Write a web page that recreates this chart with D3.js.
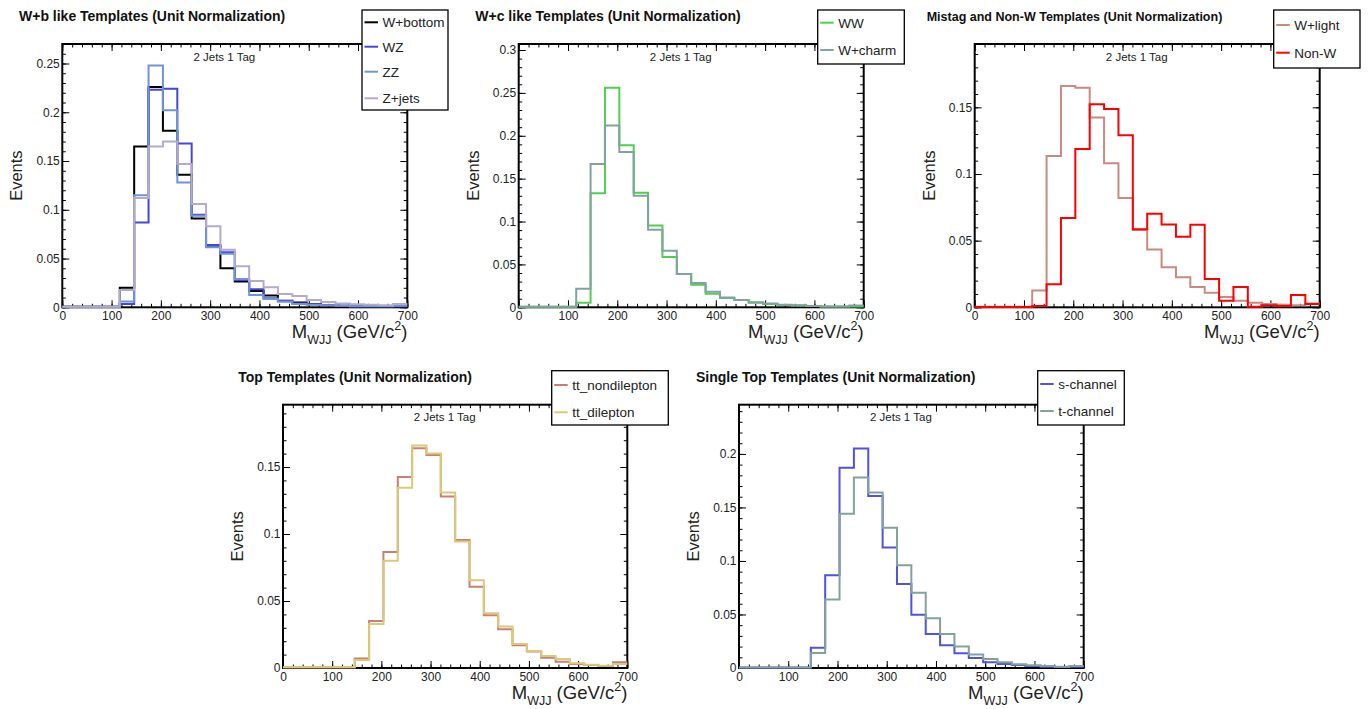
<!DOCTYPE html>
<html>
<head>
<meta charset="utf-8">
<script src="https://cdn.jsdelivr.net/npm/d3@7"></script>
<style>
  html, body { margin: 0; padding: 0; background: #fff; }
  svg { display: block; font-family: "Liberation Sans", Arial, Helvetica, sans-serif; }
</style>
</head>
<body>
<svg id="chart" width="1369" height="709"></svg>
<script>
// M_WJJ binning: 24 bins between 0 and 700 GeV/c^2
const nBins = 24;
const xMin = 0, xMax = 700;
const xMajorTicks = [0, 100, 200, 300, 400, 500, 600, 700];

// Unit-normalised templates, one value per bin
const wBottom = [0.0005, 0.0005, 0.0005, 0.0005, 0.020, 0.165, 0.226, 0.181, 0.136, 0.091, 0.063, 0.040, 0.0264, 0.0168, 0.012, 0.0068, 0.0048, 0.0034, 0.002, 0.0015, 0.001, 0.001, 0.0008, 0.001];
const wz      = [0.0005, 0.0005, 0.0005, 0.0005, 0.0034, 0.087, 0.223, 0.224, 0.168, 0.095, 0.064, 0.0565, 0.028, 0.0185, 0.0092, 0.0065, 0.004, 0.003, 0.002, 0.0015, 0.0012, 0.001, 0.001, 0.0012];
const zz      = [0.0005, 0.0005, 0.0005, 0.0005, 0.006, 0.115, 0.248, 0.202, 0.128, 0.094, 0.0616, 0.055, 0.029, 0.0127, 0.0086, 0.0058, 0.0034, 0.0025, 0.002, 0.0015, 0.0012, 0.001, 0.001, 0.0015];
const zJets   = [0.0005, 0.0005, 0.0005, 0.0005, 0.0178, 0.112, 0.165, 0.170, 0.147, 0.106, 0.083, 0.059, 0.042, 0.027, 0.0205, 0.0137, 0.0116, 0.0075, 0.0055, 0.004, 0.003, 0.0027, 0.002, 0.0034];

const ww      = [0.0005, 0.0005, 0.0005, 0.0005, 0.0054, 0.133, 0.256, 0.189, 0.1335, 0.0955, 0.0586, 0.0388, 0.0264, 0.0159, 0.0109, 0.0085, 0.0054, 0.0039, 0.0027, 0.0023, 0.0016, 0.001, 0.0008, 0.001];
const wCharm  = [0.0005, 0.0005, 0.0005, 0.0005, 0.0217, 0.167, 0.212, 0.181, 0.130, 0.0904, 0.066, 0.0388, 0.0283, 0.018, 0.0113, 0.0085, 0.006, 0.0043, 0.003, 0.002, 0.0015, 0.001, 0.001, 0.002];

const wLight  = [0.0005, 0.0005, 0.0005, 0.0005, 0.0126, 0.1134, 0.166, 0.1646, 0.1424, 0.108, 0.082, 0.058, 0.0434, 0.030, 0.0225, 0.0152, 0.0109, 0.0078, 0.005, 0.0035, 0.0025, 0.002, 0.0015, 0.0028];
const nonW    = [0.0003, 0.0003, 0.0003, 0.0003, 0.001, 0.0172, 0.067, 0.1187, 0.1523, 0.1487, 0.129, 0.0586, 0.0702, 0.0621, 0.053, 0.0619, 0.0212, 0.005, 0.0152, 0.0005, 0.0015, 0.001, 0.0093, 0.0025];

const ttNonDilepton = [0.0005, 0.0005, 0.0005, 0.0005, 0.0005, 0.007, 0.035, 0.0866, 0.1426, 0.164, 0.159, 0.128, 0.0955, 0.0607, 0.0393, 0.0289, 0.0169, 0.0124, 0.0077, 0.0047, 0.003, 0.0022, 0.0015, 0.0042];
const ttDilepton    = [0.0005, 0.0005, 0.0005, 0.0005, 0.0005, 0.006, 0.0328, 0.080, 0.1346, 0.166, 0.160, 0.131, 0.0945, 0.0654, 0.0408, 0.0309, 0.0179, 0.0127, 0.009, 0.0067, 0.0035, 0.0025, 0.0017, 0.003];

const sChannel = [0.0005, 0.0005, 0.0005, 0.0005, 0.0005, 0.019, 0.0866, 0.187, 0.205, 0.1607, 0.1125, 0.0785, 0.0498, 0.0318, 0.0212, 0.0137, 0.0093, 0.0053, 0.0037, 0.0028, 0.0019, 0.0012, 0.001, 0.0012];
const tChannel = [0.0005, 0.0005, 0.0005, 0.0005, 0.0005, 0.014, 0.0639, 0.144, 0.178, 0.164, 0.131, 0.096, 0.0704, 0.0464, 0.0318, 0.020, 0.0125, 0.0084, 0.0053, 0.0034, 0.0025, 0.0019, 0.0012, 0.0019];

const yMajorTicks = [0, 0.05, 0.1, 0.15, 0.2, 0.25, 0.3];
const channelLabel = "2 Jets 1 Tag";

// Panel layout and styling
const panels = [
  { title: "W+b like Templates (Unit Normalization)", titleSize: 14, titleX: 19, titleY: 21,
    left: 62.3, right: 407.3, top: 44, bottom: 307.3, yMax: 0.27,
    legend: { x: 362, y: 10, w: 86, h: 100, rows: [22.3, 46.7, 71.7, 98.3] },
    series: [
      { name: "W+bottom", values: wBottom, color: "#000000" },
      { name: "WZ", values: wz, color: "#4646dc" },
      { name: "ZZ", values: zz, color: "#7094d8" },
      { name: "Z+jets", values: zJets, color: "#b4aacb" } ] },
  { title: "W+c like Templates (Unit Normalization)", titleSize: 14, titleX: 475.3, titleY: 21,
    left: 518.7, right: 863.7, top: 44, bottom: 307.3, yMax: 0.307,
    legend: { x: 817.7, y: 10, w: 86.6, h: 54, rows: [22.7, 50] },
    series: [
      { name: "WW", values: ww, color: "#4ed04e" },
      { name: "W+charm", values: wCharm, color: "#80a2a2" } ] },
  { title: "Mistag and Non-W Templates (Unit Normalization)", titleSize: 12.5, titleX: 926.7, titleY: 20.5,
    left: 974.7, right: 1319.7, top: 44, bottom: 307.3, yMax: 0.1975,
    legend: { x: 1273.7, y: 10, w: 86.3, h: 58, rows: [25, 52.7] },
    series: [
      { name: "W+light", values: wLight, color: "#c88a82" },
      { name: "Non-W", values: nonW, color: "#ff0000" } ] },
  { title: "Top Templates (Unit Normalization)", titleSize: 14, titleX: 238.3, titleY: 381.5,
    left: 283, right: 627.3, top: 404.7, bottom: 668, yMax: 0.1965,
    legend: { x: 551.7, y: 370.7, w: 116.6, h: 54.3, rows: [385, 412.3] },
    series: [
      { name: "tt_nondilepton", values: ttNonDilepton, color: "#c97f72" },
      { name: "tt_dilepton", values: ttDilepton, color: "#d8ca78" } ] },
  { title: "Single Top Templates (Unit Normalization)", titleSize: 14, titleX: 696, titleY: 381.5,
    left: 739, right: 1083.7, top: 404.7, bottom: 668, yMax: 0.246,
    legend: { x: 1037.7, y: 370.7, w: 86.6, h: 54.3, rows: [384, 411] },
    series: [
      { name: "s-channel", values: sChannel, color: "#5252e2" },
      { name: "t-channel", values: tChannel, color: "#82a29a" } ] }
];

const svg = d3.select("#chart");
const edges = d3.range(nBins + 1).map(i => xMin + i * (xMax - xMin) / nBins);

function minorTicks(lo, hi, step) {
  const out = [];
  for (let v = lo; v <= hi + 1e-9; v += step) out.push(+v.toFixed(4));
  return out;
}

function fmtY(v) { return v === 0 ? "0" : String(+v.toFixed(2)); }

function drawPanel(p) {
  const g = svg.append("g");
  const x = d3.scaleLinear().domain([xMin, xMax]).range([p.left, p.right]);
  const y = d3.scaleLinear().domain([0, p.yMax]).range([p.bottom, p.top]);
  const yMaj = yMajorTicks.filter(v => v <= p.yMax + 1e-9);
  const yMin = minorTicks(0, p.yMax, 0.01);
  const xMin20 = minorTicks(xMin, xMax, 20);
  const MAJ = 7, MIN = 3.5;

  // frame
  g.append("rect")
    .attr("x", p.left).attr("y", p.top)
    .attr("width", p.right - p.left).attr("height", p.bottom - p.top)
    .attr("fill", "none").attr("stroke", "#000").attr("stroke-width", 2);

  const styleAxis = sel => {
    sel.select(".domain").remove();
    sel.selectAll("line").attr("stroke", "#000").attr("stroke-width", 1);
    sel.selectAll("text").attr("fill", "#222").attr("font-size", 12)
      .attr("font-family", "Liberation Sans, Arial, sans-serif");
  };

  // bottom axis
  g.append("g").attr("transform", `translate(0,${p.bottom})`)
    .call(d3.axisBottom(x).tickValues(xMajorTicks).tickSize(-MAJ).tickPadding(4.5).tickFormat(d3.format("d")))
    .call(styleAxis);
  g.append("g").attr("transform", `translate(0,${p.bottom})`)
    .call(d3.axisBottom(x).tickValues(xMin20).tickSize(-MIN).tickFormat(""))
    .call(styleAxis);
  // top axis
  g.append("g").attr("transform", `translate(0,${p.top})`)
    .call(d3.axisTop(x).tickValues(xMajorTicks).tickSize(-MAJ).tickFormat(""))
    .call(styleAxis);
  g.append("g").attr("transform", `translate(0,${p.top})`)
    .call(d3.axisTop(x).tickValues(xMin20).tickSize(-MIN).tickFormat(""))
    .call(styleAxis);
  // left axis
  g.append("g").attr("transform", `translate(${p.left},0)`)
    .call(d3.axisLeft(y).tickValues(yMaj).tickSize(-MAJ).tickPadding(2.5).tickFormat(fmtY))
    .call(styleAxis);
  g.append("g").attr("transform", `translate(${p.left},0)`)
    .call(d3.axisLeft(y).tickValues(yMin).tickSize(-MIN).tickFormat(""))
    .call(styleAxis);
  // right axis
  g.append("g").attr("transform", `translate(${p.right},0)`)
    .call(d3.axisRight(y).tickValues(yMaj).tickSize(-MAJ).tickFormat(""))
    .call(styleAxis);
  g.append("g").attr("transform", `translate(${p.right},0)`)
    .call(d3.axisRight(y).tickValues(yMin).tickSize(-MIN).tickFormat(""))
    .call(styleAxis);

  // histograms as step lines
  const line = d3.line().x(d => x(d[0])).y(d => y(d[1])).curve(d3.curveStepAfter);
  p.series.forEach(s => {
    const pts = s.values.map((v, i) => [edges[i], v]);
    pts.push([edges[nBins], s.values[nBins - 1]]);
    g.append("path").attr("d", line(pts))
      .attr("fill", "none").attr("stroke", s.color).attr("stroke-width", 2)
      .attr("stroke-linejoin", "miter");
  });

  // channel label
  g.append("text")
    .attr("x", p.left + 0.38 * (p.right - p.left)).attr("y", p.top + 16.5)
    .attr("font-size", 11.5).attr("fill", "#222").text(channelLabel);

  // y axis title
  g.append("text")
    .attr("transform", `translate(${p.left - 40},${(p.top + p.bottom) / 2}) rotate(-90)`)
    .attr("text-anchor", "middle").attr("font-size", 16.5).attr("fill", "#222").text("Events");

  // x axis title  M_WJJ (GeV/c^2)
  const xt = g.append("text")
    .attr("x", p.right).attr("y", p.bottom + 31)
    .attr("text-anchor", "end").attr("font-size", 18.5).attr("fill", "#222");
  xt.append("tspan").text("M");
  xt.append("tspan").attr("font-size", 12.5).attr("dy", 5.5).text("WJJ");
  xt.append("tspan").attr("dy", -5.5).text(" (GeV/c");
  xt.append("tspan").attr("font-size", 12.5).attr("dy", -8).text("2");
  xt.append("tspan").attr("dy", 8).text(")");

  // panel title
  g.append("text")
    .attr("x", p.titleX).attr("y", p.titleY)
    .attr("font-size", p.titleSize).attr("font-weight", "bold").attr("fill", "#111").text(p.title);

  // legend
  const L = p.legend;
  const lg = g.append("g");
  lg.append("rect").attr("x", L.x).attr("y", L.y).attr("width", L.w).attr("height", L.h)
    .attr("fill", "#fff").attr("stroke", "#000").attr("stroke-width", 1.3);
  p.series.forEach((s, i) => {
    const cy = L.rows[i];
    lg.append("line").attr("x1", L.x + 2.5).attr("x2", L.x + 16).attr("y1", cy).attr("y2", cy)
      .attr("stroke", s.color).attr("stroke-width", 2);
    lg.append("text").attr("x", L.x + 20.5).attr("y", cy + 5)
      .attr("font-size", 13.5).attr("fill", "#222").text(s.name);
  });
}

panels.forEach(drawPanel);
</script>
</body>
</html>
